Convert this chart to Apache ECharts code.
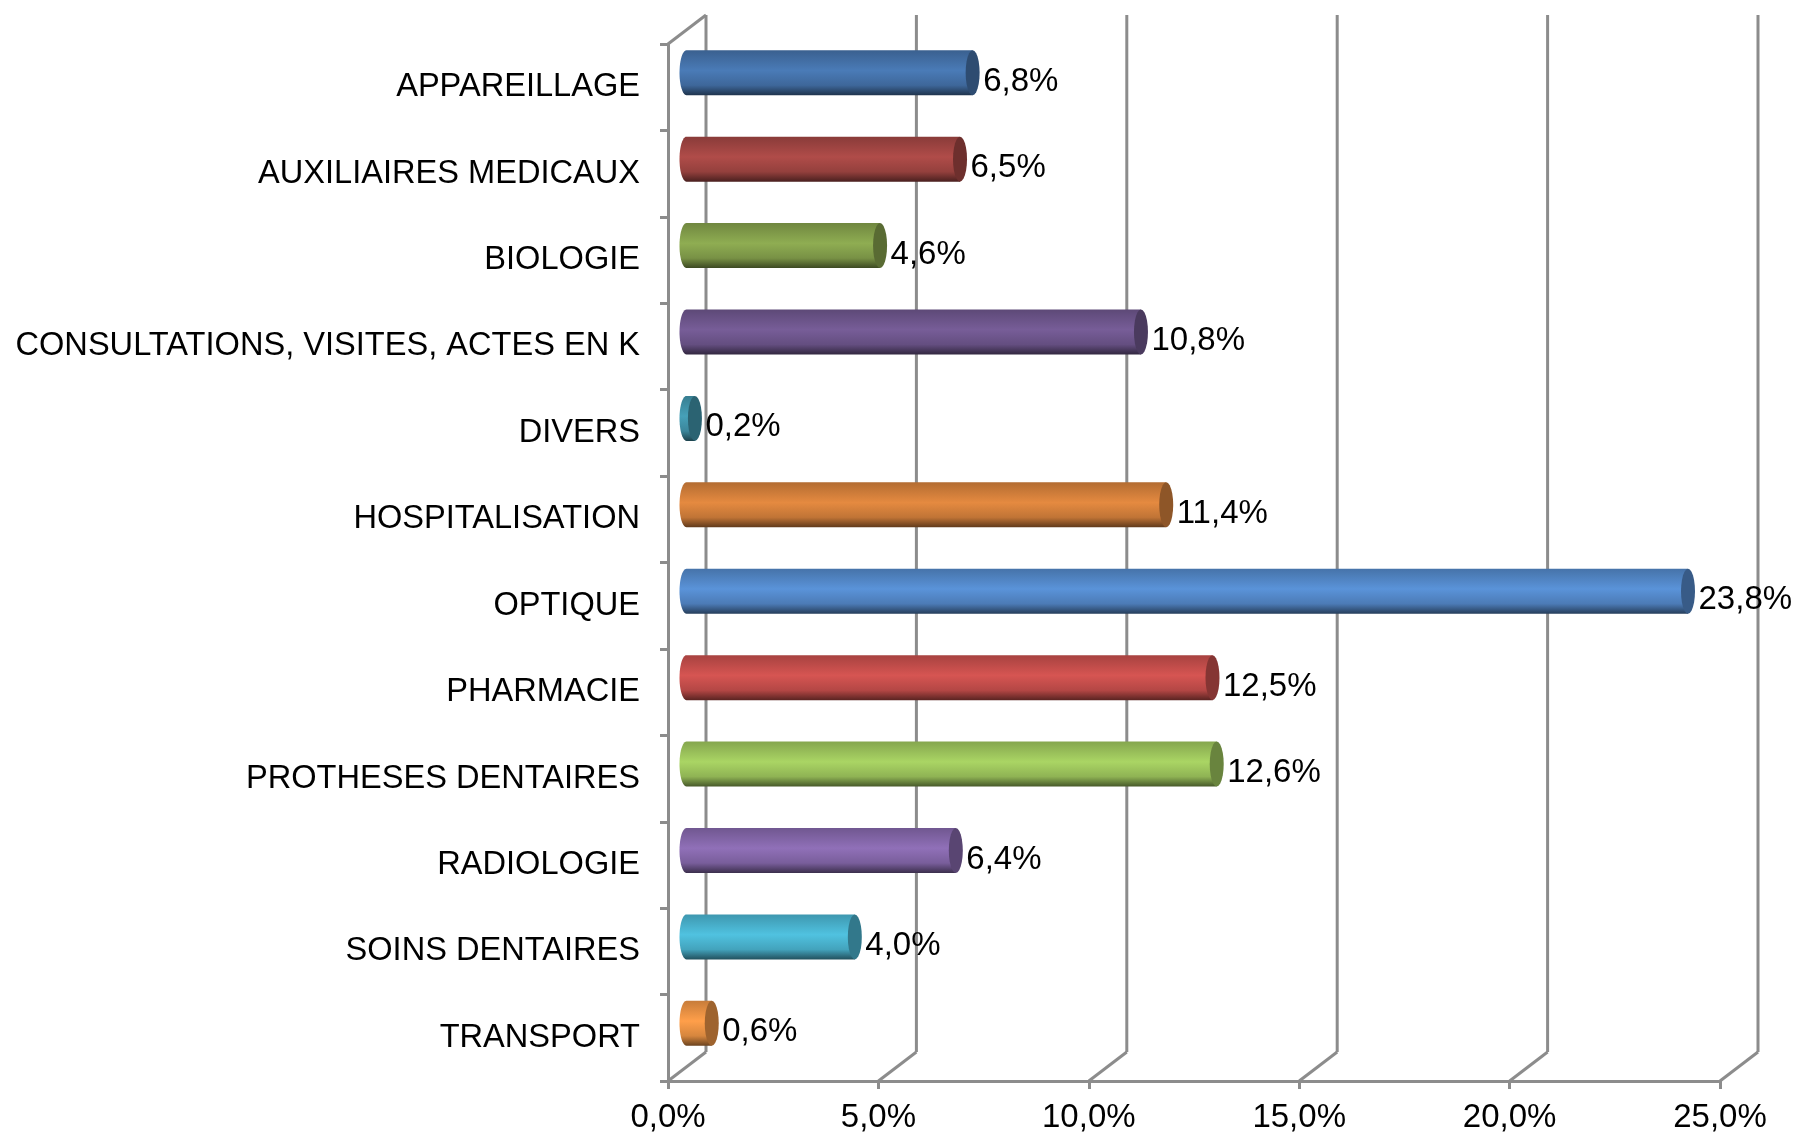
<!DOCTYPE html>
<html>
<head>
<meta charset="utf-8">
<title>Chart</title>
<script src="https://cdn.jsdelivr.net/npm/echarts@6/dist/echarts.min.js"></script>
<style>
  html, body { margin: 0; padding: 0; background: #fff; }
  #chart { width: 1795px; height: 1134px; }
</style>
</head>
<body>
<div id="chart"></div>
<script>
var categories = [
  "APPAREILLAGE",
  "AUXILIAIRES MEDICAUX",
  "BIOLOGIE",
  "CONSULTATIONS, VISITES, ACTES EN K",
  "DIVERS",
  "HOSPITALISATION",
  "OPTIQUE",
  "PHARMACIE",
  "PROTHESES DENTAIRES",
  "RADIOLOGIE",
  "SOINS DENTAIRES",
  "TRANSPORT",
];
var values = [6.8, 6.5, 4.6, 10.8, 0.2, 11.4, 23.8, 12.5, 12.6, 6.4, 4.0, 0.6];
var ticks = [0, 5, 10, 15, 20, 25];

// excel style palette, second round is the lighter one
var barColors = [
  "#4a7bb7", "#b04c49", "#8fad52", "#775d98", "#46a0b8", "#e58a40",
  "#5a93d9", "#d65552", "#aad564", "#9070b8", "#50c2e0", "#ff9f4a",
];

var fontName = '"Liberation Sans", Arial, sans-serif';
var lineColor = "#8c8c8c";
var depthX = 38; // 3d wall offset
var depthY = -29;
var barRx = 7;
var barRy = 22.5;

function shade(hex, k) {
  var n = parseInt(hex.slice(1), 16);
  var r = Math.round(((n >> 16) & 255) * k);
  var g = Math.round(((n >> 8) & 255) * k);
  var b = Math.round((n & 255) * k);
  return "rgb(" + r + "," + g + "," + b + ")";
}

function fmt(v) {
  return v.toFixed(1).replace(".", ",") + "%";
}

// ellipse points, from angle a to angle b (degrees)
function arcPoints(cx, cy, a, b) {
  var pts = [];
  for (var i = 0; i <= 24; i++) {
    var t = ((a + ((b - a) * i) / 24) * Math.PI) / 180;
    pts.push([cx + barRx * Math.cos(t), cy + barRy * Math.sin(t)]);
  }
  return pts;
}

function renderWall(params, api) {
  var x = api.coord([api.value(0), 0])[0];
  var topY = params.coordSys.y;
  var bottomY = topY + params.coordSys.height;
  var lineStyle = { stroke: lineColor, lineWidth: 3 };
  var children = [
    {
      type: "line",
      shape: { x1: x, y1: bottomY, x2: x + depthX, y2: bottomY + depthY },
      style: lineStyle,
    },
    {
      type: "line",
      shape: {
        x1: x + depthX,
        y1: bottomY + depthY,
        x2: x + depthX,
        y2: topY + depthY,
      },
      style: lineStyle,
    },
  ];
  if (params.dataIndex === 0) {
    children.push({
      type: "line",
      shape: { x1: x, y1: topY, x2: x + depthX, y2: topY + depthY },
      style: lineStyle,
    });
  }
  return { type: "group", children: children };
}

function renderBar(params, api) {
  var i = params.dataIndex;
  var start = api.coord([0, i]);
  var end = api.coord([api.value(0), i]);
  var cy = start[1] + depthY / 2;
  var x0 = start[0] + depthX / 2 - 0.5;
  var x1 = end[0] + depthX / 2 - 0.5;
  var c = barColors[i];
  var body = arcPoints(x0, cy, 270, 90);
  body.push([x1, cy + barRy], [x1, cy - barRy]);
  return {
    type: "group",
    children: [
      {
        type: "polygon",
        shape: { points: body },
        style: {
          fill: {
            type: "linear",
            x: 0,
            y: 0,
            x2: 0,
            y2: 1,
            colorStops: [
              { offset: 0, color: shade(c, 0.78) },
              { offset: 0.45, color: shade(c, 1) },
              { offset: 0.78, color: shade(c, 0.84) },
              { offset: 1, color: shade(c, 0.42) },
            ],
          },
        },
      },
      {
        type: "polygon",
        shape: { points: arcPoints(x1, cy, 0, 360) },
        style: { fill: shade(c, 0.62) },
      },
      {
        type: "text",
        style: {
          x: x1 + barRx + 3.5,
          y: cy + 9,
          text: fmt(api.value(0)),
          fill: "#000",
          font: "33px " + fontName,
          align: "left",
          verticalAlign: "middle",
        },
      },
    ],
  };
}

var myChart = echarts.init(document.getElementById("chart"));
var option = {
  animation: false,
  backgroundColor: "#fff",
  grid: {
    left: 668,
    top: 44,
    width: 1052,
    height: 1037,
    containLabel: false,
    outerBoundsMode: "none", // v6 squeezes the grid otherwise
  },
  xAxis: {
    type: "value",
    min: 0,
    max: 25,
    interval: 5,
    splitLine: { show: false },
    axisLine: { show: true, lineStyle: { color: lineColor, width: 3 } },
    axisTick: { show: true, length: 8, lineStyle: { color: lineColor, width: 3 } },
    axisLabel: {
      margin: 20,
      fontFamily: fontName,
      fontSize: 33,
      color: "#000",
      formatter: fmt,
    },
  },
  yAxis: {
    type: "category",
    inverse: true,
    data: categories,
    axisLine: { show: true, lineStyle: { color: lineColor, width: 3 } },
    axisTick: { show: true, length: 8, lineStyle: { color: lineColor, width: 3 } },
    axisLabel: {
      interval: 0,
      margin: 28,
      padding: [6, 0, 0, 0],
      fontFamily: fontName,
      fontSize: 32.6,
      color: "#000",
    },
  },
  series: [
    {
      type: "custom",
      renderItem: renderWall,
      data: ticks.map(function (t) {
        return [t];
      }),
      encode: { x: 0 },
      silent: true,
      z: 1,
    },
    {
      type: "custom",
      renderItem: renderBar,
      data: values.map(function (v) {
        return [v];
      }),
      encode: { x: 0 },
      silent: true,
      z: 3,
    },
  ],
};
myChart.setOption(option);
window.onresize = function () {
  myChart.resize();
};
</script>
</body>
</html>
